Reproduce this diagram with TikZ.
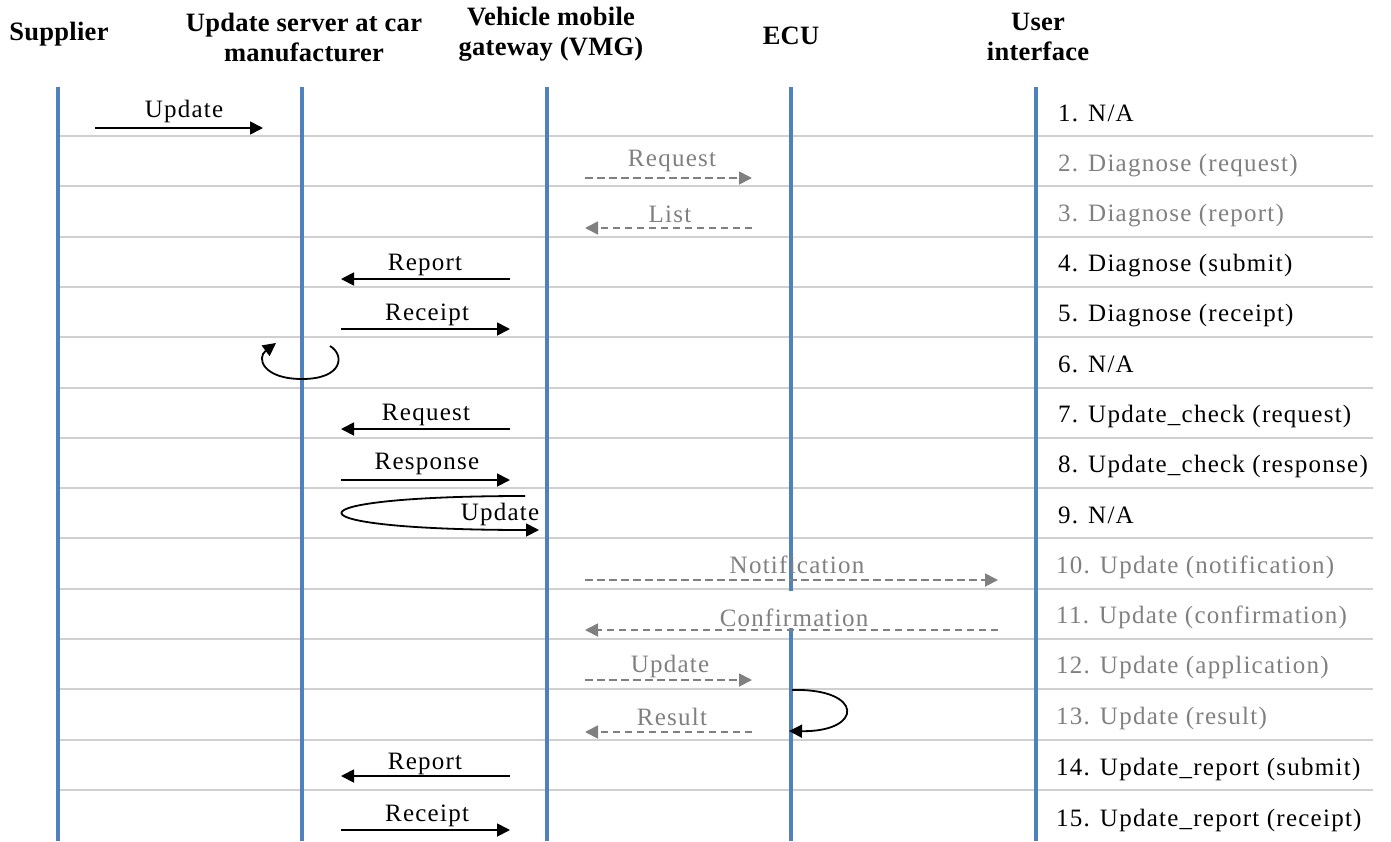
\documentclass[tikz,border=0pt]{standalone}
\usepackage{fontspec}
\setmainfont{Liberation Serif}[LetterSpace=5]
\newfontfamily\headfont{Liberation Serif}[LetterSpace=1]
\usetikzlibrary{arrows.meta}
\definecolor{lifeblue}{RGB}{79,129,189}
\definecolor{sepgray}{RGB}{208,208,208}
\definecolor{msggray}{RGB}{128,128,128}
\tikzset{
  head/.style={font=\headfont\bfseries\fontsize{26.5}{30}\selectfont, align=center, inner sep=0pt},
  lifeline/.style={draw=lifeblue, line width=3.2pt},
  rowsep/.style={draw=sepgray, line width=2pt},
  msg/.style={draw=black, line width=1.8pt, -{Triangle[length=13pt,width=13pt]}},
  dmsg/.style={draw=msggray, line width=1.8pt, dash pattern=on 7.5pt off 4.5pt, -{Triangle[length=13pt,width=13pt]}},
  lbl/.style={font=\fontsize{25}{28}\selectfont, inner sep=0pt, anchor=base},
  glbl/.style={lbl, text=msggray},
  step text/.style={font=\fontsize{25}{28}\selectfont, inner sep=0pt, anchor=base west},
  gstep text/.style={step text, text=msggray},
}
\begin{document}
\begin{tikzpicture}[x=1pt, y=-1pt]
\useasboundingbox (0,0) rectangle (1391,841);

% participants
\node[head] (sup) at (59,34) {Supplier};
\node[head] (srv) at (304,37) {Update server at car\\manufacturer};
\node[head] (vmg) at (551,34) {Vehicle mobile\\gateway (VMG)};
\node[head] (ecu) at (791,36) {ECU};
\node[head] (ui)  at (1038,37) {User\\interface};

% row separators
\foreach \k in {0,...,13} {
  \draw[rowsep] (58,136+\k*50.3) -- (1373,136+\k*50.3);
}

% lifelines
\foreach \n/\x in {sup/58, srv/302, vmg/547, ecu/791, ui/1036} {
  \coordinate (\n top) at (\x,87);
  \coordinate (\n bot) at (\x,841);
  \draw[lifeline] (\n top) -- (\n bot);
}

% 1. supplier -> server
\coordinate (a1s) at (95,128);  \coordinate (a1e) at (263,128);
\draw[msg] (a1s) -- (a1e);
\node[lbl] (t1) at (184,117) {Update};

% 2. request to ECU
\coordinate (a2s) at (585,178); \coordinate (a2e) at (752,178);
\draw[dmsg] (a2s) -- (a2e);
\node[glbl] (t2) at (672,166) {Request};

% 3. list from ECU
\coordinate (a3s) at (752,228); \coordinate (a3e) at (585,228);
\draw[dmsg] (a3s) -- (a3e);
\node[glbl] (t3) at (670,222) {List};

% 4. report to server
\coordinate (a4s) at (510,279); \coordinate (a4e) at (341,279);
\draw[msg] (a4s) -- (a4e);
\node[lbl] (t4) at (425,270) {Report};

% 5. receipt to VMG
\coordinate (a5s) at (341,329); \coordinate (a5e) at (510,329);
\draw[msg] (a5s) -- (a5e);
\node[lbl] (t5) at (427,320) {Receipt};

% 6. server self loop
\coordinate (a6s) at (330,346); \coordinate (a6e) at (276,343);
\draw[msg] (a6s) .. controls (345,355) and (343,379) .. (302,379)
               .. controls (263,379) and (256,358) .. (a6e);

% 7. update check request
\coordinate (a7s) at (510,429); \coordinate (a7e) at (341,429);
\draw[msg] (a7s) -- (a7e);
\node[lbl] (t7) at (426,420) {Request};

% 8. update check response
\coordinate (a8s) at (341,480); \coordinate (a8e) at (510,480);
\draw[msg] (a8s) -- (a8e);
\node[lbl] (t8) at (427,469) {Response};

% 9. update download loop
\coordinate (a9s) at (525,496); \coordinate (a9e) at (539,530);
\draw[msg] (a9s) .. controls (280,496) and (280,530) .. (a9e);
\node[lbl] (t9) at (500,520) {Update};

% 10. notification to user
\coordinate (a10s) at (585,580); \coordinate (a10e) at (998,580);
\draw[dmsg] (a10s) -- (a10e);
\node[glbl] (t10) at (797,573) {Notification};

% 11. confirmation from user (label masks the ECU lifeline)
\coordinate (a11s) at (998,630); \coordinate (a11e) at (585,630);
\node[glbl, fill=white, text height=34pt, text depth=0pt, inner xsep=2pt, inner ysep=1.5pt] (t11) at (794,626) {Confirmation};
\draw[dmsg] (a11s) -- (a11e);

% 12. update to ECU
\coordinate (a12s) at (585,680); \coordinate (a12e) at (752,680);
\draw[dmsg] (a12s) -- (a12e);
\node[glbl] (t12) at (670,672) {Update};

% 13. ECU applies update, result back
\coordinate (a13ls) at (792,690); \coordinate (a13le) at (789,731);
\draw[msg] (a13ls) .. controls (864,688) and (864,732) .. (a13le);
\coordinate (a13s) at (752,732); \coordinate (a13e) at (585,732);
\draw[dmsg] (a13s) -- (a13e);
\node[glbl] (t13) at (672,725) {Result};

% 14. update report
\coordinate (a14s) at (510,776); \coordinate (a14e) at (341,776);
\draw[msg] (a14s) -- (a14e);
\node[lbl] (t14) at (425,769) {Report};

% 15. update report receipt
\coordinate (a15s) at (341,830); \coordinate (a15e) at (510,830);
\draw[msg] (a15s) -- (a15e);
\node[lbl] (t15) at (427,821) {Receipt};

% user interface states
\node[step text]  (s1)  at (1058,121) {1. N/A};
\node[gstep text] (s2)  at (1058,171) {2. Diagnose (request)};
\node[gstep text] (s3)  at (1058,221) {3. Diagnose (report)};
\node[step text]  (s4)  at (1058,271) {4. Diagnose (submit)};
\node[step text]  (s5)  at (1058,321) {5. Diagnose (receipt)};
\node[step text]  (s6)  at (1058,372) {6. N/A};
\node[step text]  (s7)  at (1058,422) {7. Update\_check (request)};
\node[step text]  (s8)  at (1058,472) {8. Update\_check (response)};
\node[step text]  (s9)  at (1058,523) {9. N/A};
\node[gstep text] (s10) at (1056,573) {10. Update (notification)};
\node[gstep text] (s11) at (1056,623) {11. Update (confirmation)};
\node[gstep text] (s12) at (1056,673) {12. Update (application)};
\node[gstep text] (s13) at (1056,724) {13. Update (result)};
\node[step text]  (s14) at (1056,775) {14. Update\_report (submit)};
\node[step text]  (s15) at (1056,826) {15. Update\_report (receipt)};
\end{tikzpicture}
\end{document}
